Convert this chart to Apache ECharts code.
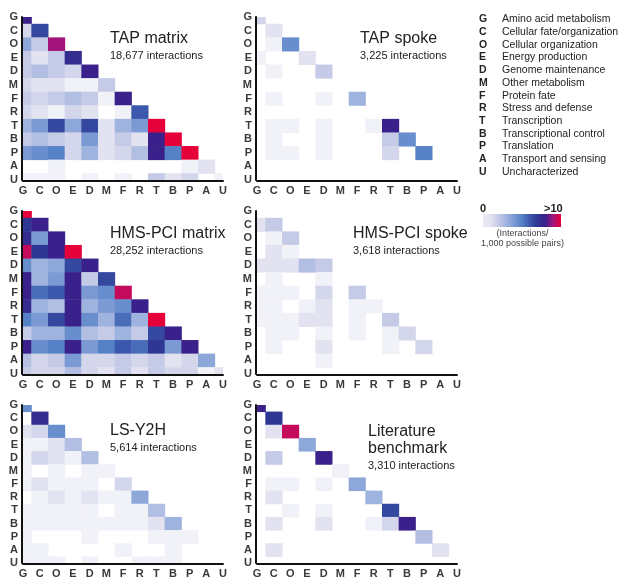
<!DOCTYPE html>
<html>
<head>
<meta charset="utf-8">
<script src="https://cdn.jsdelivr.net/npm/echarts@6/dist/echarts.min.js"></script>
<style>
  html, body { margin: 0; padding: 0; background: #fff; }
  #chart { width: 623px; height: 579px; }
</style>
</head>
<body>
<div id="chart"></div>
<script>
// functional categories (axis order)
const cats = ['G', 'C', 'O', 'E', 'D', 'M', 'F', 'R', 'T', 'B', 'P', 'A', 'U'];
const catNames = ['Amino acid metabolism', 'Cellular fate/organization', 'Cellular organization',
  'Energy production', 'Genome maintenance', 'Other metabolism', 'Protein fate',
  'Stress and defense', 'Transcription', 'Transcriptional control', 'Translation',
  'Transport and sensing', 'Uncharacterized'];

// interactions / 1,000 possible pairs, lower triangle row by row (0 = empty)
const tapMatrix = [
  [8],
  [1.5, 6.5],
  [3.5, 2, 9],
  [2, 1, 2, 7.5],
  [2, 2.5, 2, 1.5, 8],
  [1.5, 1, 1, 0.5, 0.5, 2],
  [2, 1.5, 2, 2.5, 2, 0.5, 8],
  [1.5, 1, 0.5, 1.5, 1, 0, 0.5, 6],
  [3, 4, 6.5, 3.5, 6.5, 1, 3, 4, 10],
  [2, 2.5, 2, 1.5, 4, 1, 2, 1, 8, 10],
  [4, 4.5, 5, 1.5, 3, 1, 1.5, 2.5, 8, 5, 10],
  [0, 0, 0.5, 0, 0, 0, 0, 0, 0, 0, 0.5, 1],
  [0.5, 0.5, 0.5, 0, 0.5, 0, 0.5, 0, 2, 1, 1.5, 0, 0.5]
];
const tapSpoke = [
  [1.5],
  [0, 1],
  [0, 0.5, 4.5],
  [0.5, 0, 0, 1],
  [0, 0.5, 0, 0, 2],
  [0, 0, 0, 0, 0, 0],
  [0, 0.5, 0, 0, 0.5, 0, 3],
  [0, 0, 0, 0, 0, 0, 0, 0],
  [0, 0.5, 0.5, 0, 0.5, 0, 0, 0.5, 8],
  [0, 0.5, 0, 0, 0.5, 0, 0, 0, 2, 4.5],
  [0, 0.5, 0.5, 0, 0.5, 0, 0, 0, 1.5, 0, 5],
  [0, 0, 0, 0, 0, 0, 0, 0, 0, 0, 0, 0],
  [0, 0, 0, 0, 0, 0, 0, 0, 0, 0, 0, 0, 0]
];
const hmsMatrix = [
  [10],
  [7, 8],
  [7.5, 4, 8],
  [9.5, 7, 8, 10],
  [4.5, 3, 3.5, 6.5, 8],
  [8, 3, 4, 8, 2, 6.5],
  [8, 5.5, 6, 8, 4, 4.5, 9.5],
  [7.5, 3, 2.5, 8, 3, 4, 4.5, 8],
  [5, 4, 6.5, 8, 4.5, 3, 5.5, 3, 10],
  [2, 3, 3, 4.5, 2.5, 2, 3, 2, 6.5, 8],
  [8, 4.5, 5, 8, 4, 5, 6, 5.5, 7, 4, 8],
  [2.5, 1.5, 2, 4, 1.5, 1.5, 2, 1.5, 2, 1, 1.5, 3.5],
  [2, 1.5, 1.5, 2.5, 1.5, 1, 2, 1, 2, 1.5, 1.5, 0.5, 1]
];
const hmsSpoke = [
  [0],
  [1, 2],
  [0, 0.5, 2],
  [0, 1, 0.5, 0],
  [1, 1, 1, 2.5, 2],
  [0, 0.5, 0, 0, 0.5, 0],
  [0.5, 0.5, 0.5, 0, 1.5, 0, 2],
  [0.5, 0.5, 0, 0.5, 1, 0, 0.5, 0.5],
  [0.5, 0.5, 0.5, 1, 1, 0, 0.5, 0, 2],
  [0, 0.5, 0.5, 0, 0.5, 0, 0.5, 0, 0.5, 1.5],
  [0, 0.5, 0, 0, 1, 0, 0, 0, 0.5, 0, 1.5],
  [0, 0, 0, 0, 0.5, 0, 0, 0, 0, 0, 0, 0],
  [0, 0, 0, 0, 0, 0, 0, 0, 0, 0, 0, 0, 0]
];
const lsY2h = [
  [4.5],
  [0, 7.5],
  [1, 1.5, 4.5],
  [0.5, 0.5, 1, 2.5],
  [0.5, 1.5, 1, 0.5, 2.5],
  [0.5, 0, 0.5, 0, 0.5, 0.5],
  [0.5, 1, 0.5, 0.5, 0.5, 0, 1.5],
  [0, 0.5, 1, 0.5, 1, 0.5, 0.5, 3.5],
  [0.5, 0.5, 0.5, 0.5, 0.5, 0, 0.5, 0.5, 2.5],
  [0.5, 0.5, 0.5, 0.5, 0.5, 0.5, 0.5, 0.5, 1, 3],
  [0.5, 0, 0, 0, 0.5, 0, 0, 0, 0.5, 0.5, 0.5],
  [0.5, 0.5, 0, 0, 0, 0, 0.5, 0, 0, 0.5, 0, 0],
  [0.5, 0.5, 0.5, 0, 0.5, 0, 0, 0.5, 0.5, 0.5, 0, 0, 0]
];
const literature = [
  [8],
  [0, 7],
  [0, 1, 9.5],
  [0, 0, 0, 3.5],
  [0, 2, 0, 0, 8],
  [0, 0, 0, 0, 0, 0.5],
  [0, 0.5, 0.5, 0, 0.5, 0, 3.5],
  [0, 1, 0, 0, 0, 0, 0, 3],
  [0, 0, 0.5, 0, 0.5, 0, 0, 0, 6.5],
  [0, 1, 0, 0, 1, 0, 0, 0.5, 1.5, 8],
  [0, 0, 0, 0, 0, 0, 0, 0, 0, 0, 2.5],
  [0, 1, 0, 0, 0, 0, 0, 0, 0, 0, 0, 1],
  [0, 0, 0, 0, 0, 0, 0, 0, 0, 0, 0, 0, 0]
];

const panels = [
  { data: tapMatrix, title: ['TAP matrix'], sub: '18,677 interactions' },
  { data: tapSpoke, title: ['TAP spoke'], sub: '3,225 interactions' },
  { data: hmsMatrix, title: ['HMS-PCI matrix'], sub: '28,252 interactions' },
  { data: hmsSpoke, title: ['HMS-PCI spoke'], sub: '3,618 interactions' },
  { data: lsY2h, title: ['LS-Y2H'], sub: '5,614 interactions' },
  { data: literature, title: ['Literature', 'benchmark'], sub: '3,310 interactions' }
];

const scaleColors = ['#ffffff', '#e2e2f0', '#c5cae7', '#9fb3df', '#7b9ad3', '#5581c6',
  '#3c58ac', '#2e3794', '#39208a', '#a3147a', '#e5003a'];

const chart = echarts.init(document.getElementById('chart'));

const gridPos = [
  { left: 23, top: 17, tx: 110, ty: 31 }, { left: 257, top: 17, tx: 360, ty: 31 },
  { left: 23, top: 211, tx: 110, ty: 226 }, { left: 257, top: 211, tx: 353, ty: 226 },
  { left: 23, top: 405, tx: 110, ty: 423 }, { left: 257, top: 405, tx: 368, ty: 424 }
];

function renderCell(params, api) {
  const x = api.value(0), y = api.value(1);
  const p0 = api.coord([x - 0.5, y - 0.5]);
  const p1 = api.coord([x + 0.5, y + 0.5]);
  const cs = params.coordSys;
  const rect = echarts.graphic.clipRectByRect({
    x: Math.min(p0[0], p1[0]), y: Math.min(p0[1], p1[1]),
    width: Math.abs(p1[0] - p0[0]) + 0.5, height: Math.abs(p1[1] - p0[1]) + 0.5
  }, { x: cs.x, y: cs.y, width: cs.width, height: cs.height });
  return rect && { type: 'rect', shape: rect, style: { fill: api.visual('color') } };
}

const axisLabel = {
  formatter: v => cats[v], fontSize: 11, fontWeight: 'bold',
  color: '#3a3a3a', fontFamily: 'Arial', margin: 4
};
const axisLine = { show: true, onZero: false, lineStyle: { color: '#111', width: 2 } };

const grid = [], xAxis = [], yAxis = [], series = [], graphic = [];

panels.forEach((p, k) => {
  const g = gridPos[k];
  grid.push({ left: g.left, top: g.top, width: 200, height: 163 });
  xAxis.push({
    gridIndex: k, type: 'value', min: 0, max: 12, interval: 1, offset: 1, z: 5,
    axisLine, axisTick: { show: false }, splitLine: { show: false }, axisLabel
  });
  yAxis.push({
    gridIndex: k, type: 'value', min: 0, max: 12, interval: 1, inverse: true, offset: 1, z: 5,
    axisLine, axisTick: { show: false }, splitLine: { show: false }, axisLabel
  });
  const cells = [];
  p.data.forEach((row, i) => row.forEach((v, j) => { if (v > 0) cells.push([j, i, v]); }));
  series.push({
    type: 'custom', xAxisIndex: k, yAxisIndex: k, z: 1,
    renderItem: renderCell, data: cells, encode: { x: 0, y: 1 }
  });
  // panel title
  p.title.forEach((t, n) => graphic.push({
    type: 'text', left: g.tx, top: g.ty + n * 17,
    style: { text: t, font: '16px Arial', fill: '#222' }
  }));
  graphic.push({
    type: 'text', left: g.tx, top: g.ty + p.title.length * 17 + 2,
    style: { text: p.sub, font: '11px Arial', fill: '#222' }
  });
});

// category key
cats.forEach((c, i) => {
  graphic.push({ type: 'text', left: 479, top: 14 + i * 12.7,
    style: { text: c, font: 'bold 10.5px Arial', fill: '#222' } });
  graphic.push({ type: 'text', left: 502, top: 14 + i * 12.7,
    style: { text: catNames[i], font: '10.5px Arial', fill: '#222' } });
});

// colour bar
graphic.push({
  type: 'rect', left: 483, top: 214, shape: { width: 78, height: 13 },
  style: {
    fill: new echarts.graphic.LinearGradient(0, 0, 1, 0,
      [{ offset: 0, color: '#ebebf5' }].concat(scaleColors.slice(1).map((c, i) =>
        ({ offset: (i + 1) / (scaleColors.length - 1), color: c }))))
  }
});
graphic.push({ type: 'text', left: 480, top: 203, style: { text: '0', font: 'bold 11px Arial', fill: '#222' } });
graphic.push({ type: 'text', left: 544, top: 203, style: { text: '>10', font: 'bold 11px Arial', fill: '#222' } });
graphic.push({ type: 'text', left: 481, top: 229,
  style: { text: '(Interactions/\n1,000 possible pairs)', font: '9px Arial', fill: '#444',
    textAlign: 'center', lineHeight: 10 } });

chart.setOption({
  animation: false,
  grid, xAxis, yAxis, series, graphic,
  visualMap: {
    type: 'continuous', show: false, min: 0, max: 10, dimension: 2,
    seriesIndex: [0, 1, 2, 3, 4, 5], inRange: { color: scaleColors }
  }
});
</script>
</body>
</html>
